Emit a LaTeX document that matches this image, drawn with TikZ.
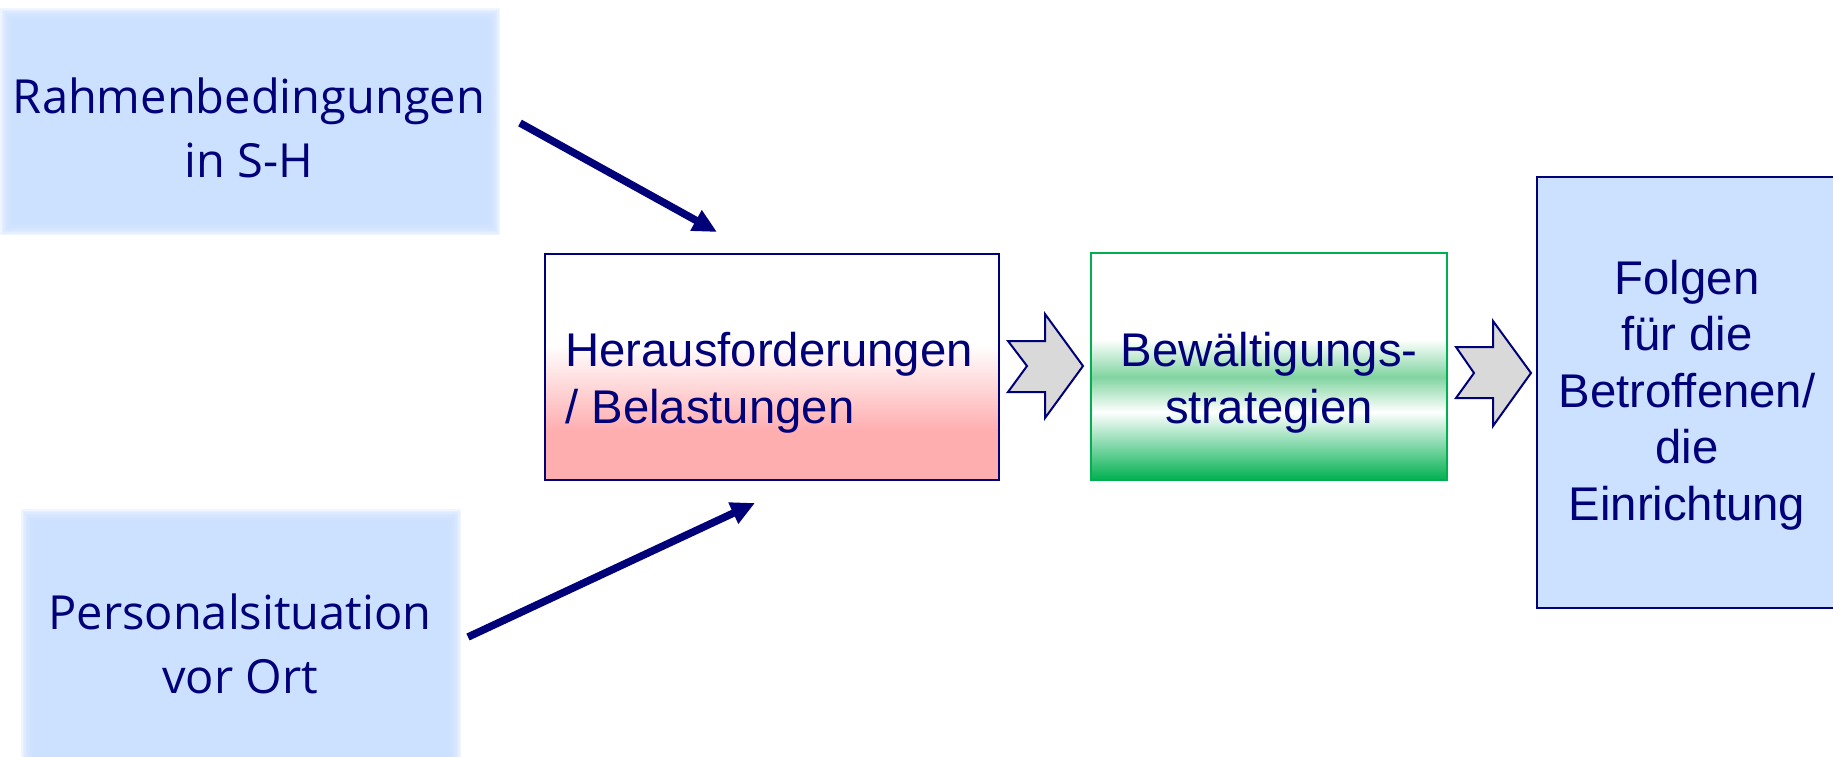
\documentclass[tikz,border=0pt]{standalone}
\usepackage{fontspec}
\setmainfont{Liberation Sans}
\newfontfamily\segoe{Open Sans}
\usetikzlibrary{arrows.meta}
\definecolor{navy}{RGB}{0,0,120}
\definecolor{lblue}{RGB}{204,224,255}
\definecolor{pk}{RGB}{255,174,176}
\definecolor{gd}{RGB}{0,176,80}
\definecolor{gl}{RGB}{128,212,160}
\definecolor{chev}{RGB}{217,217,217}
\pgfdeclareverticalshading{pinkshade}{100bp}{color(0bp)=(pk); color(36bp)=(pk); color(55bp)=(white); color(100bp)=(white)}
\pgfdeclareverticalshading{greenshade}{100bp}{color(0bp)=(gd); color(25bp)=(gd); color(40bp)=(white); color(47.7bp)=(gl); color(56bp)=(white); color(100bp)=(white)}
\newcommand\softbox[4]{%
  \fill[lblue] (#1+6,#2+6) rectangle (#3-6,#4-6);
  \foreach \e in {0,1.5,...,12}
    \fill[lblue,opacity=0.28] (#1+6-\e,#2+6-\e) rectangle (#3-6+\e,#4-6+\e);
}
\tikzset{
  lefttxt/.style={anchor=base, align=center, inner sep=0pt, text=navy, font={\segoe\fontsize{47}{63.5}\selectfont}},
  boxtxt/.style={inner sep=0pt, text=navy, font={\fontsize{47.3}{56.5}\selectfont}},
  frame/.style={draw=navy, line width=2pt, inner sep=0pt},
  chevron/.style={draw=navy, fill=chev, line width=2pt, line join=miter},
  arr/.style={draw=navy, line width=7.5pt, -{Triangle[length=24pt,width=22pt]}}
}
\begin{document}
\begin{tikzpicture}[x=1pt,y=-1pt]
\useasboundingbox (0,0) rectangle (1833,756);
\fill[white] (0,0) rectangle (1833,756);
\begin{scope}
\clip (0,0) rectangle (1833,756);
% soft boxes
\softbox{6}{14}{494}{229}
\softbox{27}{515}{455}{790}
\node[lefttxt] (rahmen) at (249,177) {Rahmenbedingungen\\in S-H};
\node[lefttxt] (personal) at (240,693) {Personalsituation\\vor Ort};
% main boxes
\node[frame, shading=pinkshade, minimum width=454pt, minimum height=226pt] (heraus) at (772,367) {};
\node[frame, draw=gd, shading=greenshade, minimum width=356pt, minimum height=227pt] (bewalt) at (1269,366.5) {};
\node[frame, fill=lblue, minimum width=303pt, minimum height=431pt] (folgen) at (1688.5,392.5) {};
\node[boxtxt, anchor=base west, align=left] (herausT) at (565,423) {Herausforderungen\\/ Belastungen};
\node[boxtxt, anchor=base, align=center] (bewaltT) at (1269,423) {Bewältigungs-\\strategien};
\node[boxtxt, anchor=base, align=center] (folgenT) at (1687,520) {Folgen\\für die\\Betroffenen/\\die\\Einrichtung};
% chevrons
\draw[chevron] (1008,341) -- (1045,341) -- (1045,314) -- (1083,366) -- (1045,418) -- (1045,392) -- (1008,392) -- (1027,366) -- cycle;
\draw[chevron] (1456,347) -- (1493,347) -- (1493,321) -- (1531,373) -- (1493,426) -- (1493,398) -- (1456,398) -- (1474,373) -- cycle;
% arrows
\coordinate (a1s) at (520,123);
\coordinate (a1e) at (717,232);
\coordinate (a2s) at (468,637);
\coordinate (a2e) at (755,503);
\draw[arr] (a1s) -- (a1e);
\draw[arr] (a2s) -- (a2e);
\end{scope}
\end{tikzpicture}
\end{document}
